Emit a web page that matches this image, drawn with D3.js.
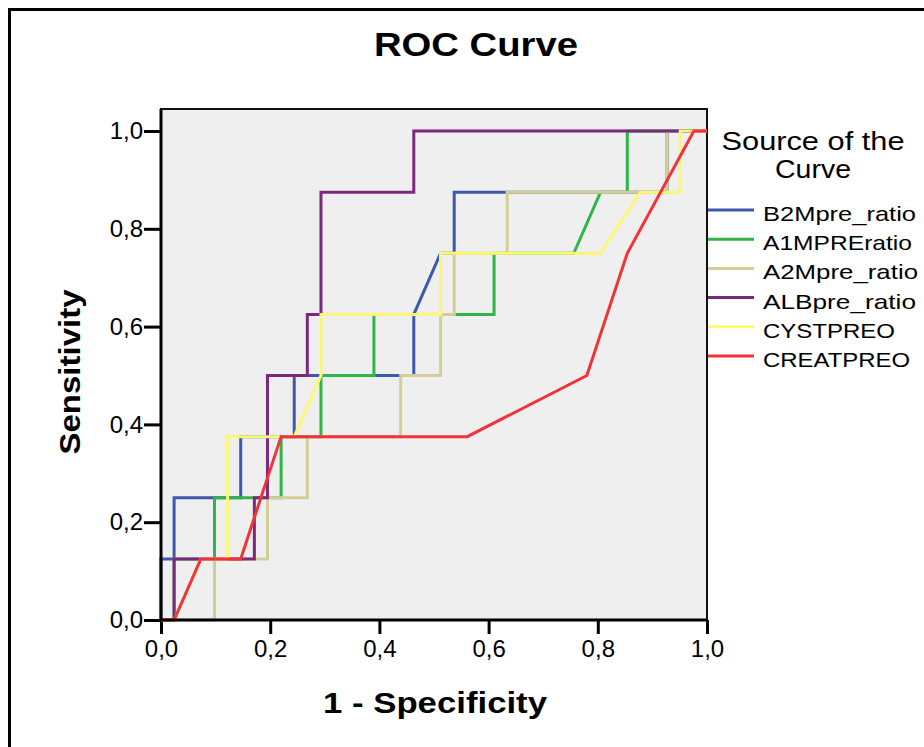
<!DOCTYPE html>
<html>
<head>
<meta charset="utf-8">
<script src="https://cdn.jsdelivr.net/npm/d3@7"></script>
<style>
  body { margin: 0; background: #fff; }
  text { font-family: Arial, "Liberation Sans", sans-serif; fill: #000; }
</style>
</head>
<body>
<div id="chart"></div>
<script>
// series names and colours (legend order = drawing order)
var seriesNames = ['B2Mpre_ratio', 'A1MPREratio', 'A2Mpre_ratio', 'ALBpre_ratio', 'CYSTPREO', 'CREATPREO'];
var seriesColors = ['#3e58ac', '#2fb64a', '#d3ce98', '#7c287d', '#fbf873', '#ef3338'];

// 1 - specificity / sensitivity per curve
var b2mX = [0, 0, .024, .024, .146, .146, .244, .244, .463, .463, .512, .537, .537, .927, .927, 1];
var b2mY = [0, .125, .125, .25, .25, .375, .375, .5, .5, .625, .75, .75, .875, .875, 1, 1];

var a1mX = [0, .024, .024, .098, .098, .220, .220, .293, .293, .390, .390, .610, .610, .756, .805, .854, .854, 1];
var a1mY = [0, 0, .125, .125, .25, .25, .375, .375, .5, .5, .625, .625, .75, .75, .875, .875, 1, 1];

var a2mX = [0, .098, .098, .195, .195, .268, .268, .439, .439, .512, .512, .537, .537, .634, .634, .927, .927, 1];
var a2mY = [0, 0, .125, .125, .25, .25, .375, .375, .5, .5, .625, .625, .75, .75, .875, .875, 1, 1];

var albX = [0, .024, .024, .171, .171, .195, .195, .268, .268, .293, .293, .463, .463, 1];
var albY = [0, 0, .125, .125, .25, .25, .5, .5, .625, .625, .875, .875, 1, 1];

var cystX = [0, .024, .073, .122, .122, .244, .293, .293, .512, .512, .805, .878, .951, .951, 1];
var cystY = [0, 0, .125, .125, .375, .375, .5, .625, .625, .75, .75, .875, .875, 1, 1];

var creatX = [0, .024, .073, .146, .220, .561, .780, .854, .976, 1];
var creatY = [0, 0, .125, .125, .375, .375, .5, .75, 1, 1];

var seriesX = [b2mX, a1mX, a2mX, albX, cystX, creatX];
var seriesY = [b2mY, a1mY, a2mY, albY, cystY, creatY];

var tickValues = [0, .2, .4, .6, .8, 1];
var legendWidths = [153, 149, 155, 153, 132, 147];

//layout
var width = 924, height = 747;
var plotLeft = 161, plotRight = 707, plotTop = 109, plotBottom = 620;

var svg = d3.select('#chart').append('svg')
    .attr('width', width)
    .attr('height', height);

svg.append('rect')
    .attr('width', width).attr('height', height)
    .attr('fill', '#fff');

//outer frame
svg.append('rect')
    .attr('x', 9.5).attr('y', 9.5)
    .attr('width', 1000).attr('height', 1000)
    .attr('fill', 'none')
    .attr('stroke', '#000')
    .attr('stroke-width', 3);

var x = d3.scaleLinear().domain([0, 1]).range([plotLeft, plotRight]);
var y = d3.scaleLinear().domain([0, 1]).range([plotBottom, 131]);

var fmt = d3.formatLocale({decimal: ',', thousands: '.', grouping: [3], currency: ['', '']}).format('.1f');

//plot background
svg.append('rect')
    .attr('x', plotLeft).attr('y', plotTop)
    .attr('width', plotRight - plotLeft).attr('height', plotBottom - plotTop)
    .attr('fill', '#efefef')
    .attr('stroke', '#111')
    .attr('stroke-width', 2);

//axes
var yAxis = svg.append('g')
    .attr('transform', 'translate(' + plotLeft + ',0)')
    .call(d3.axisLeft(y).tickValues(tickValues).tickSize(17).tickPadding(1).tickFormat(fmt));

var xAxis = svg.append('g')
    .attr('transform', 'translate(0,' + plotBottom + ')')
    .call(d3.axisBottom(x).tickValues(tickValues).tickSize(14).tickPadding(6).tickFormat(fmt));

[yAxis, xAxis].forEach(function(ax) {
    ax.select('.domain').remove();
    ax.selectAll('line').attr('stroke', '#000').attr('stroke-width', 3);
    ax.selectAll('text')
        .style('font-size', '24px')
        .style('font-family', 'Arial, "Liberation Sans", sans-serif')
        .attr('fill', '#000');
});

//curves
var line = d3.line()
    .x(function(d) { return x(d[0]); })
    .y(function(d) { return y(d[1]); });

var curves = seriesNames.map(function(name, i) {
    return seriesX[i].map(function(v, j) { return [v, seriesY[i][j]]; });
});

svg.append('g').selectAll('path')
    .data(curves)
    .enter().append('path')
    .attr('d', line)
    .attr('fill', 'none')
    .attr('stroke', function(d, i) { return seriesColors[i]; })
    .attr('stroke-width', 3)
    .attr('stroke-linejoin', 'miter');

//axis lines on top
svg.append('line')
    .attr('x1', plotLeft).attr('x2', plotLeft)
    .attr('y1', plotTop).attr('y2', plotBottom + 1)
    .attr('stroke', '#000').attr('stroke-width', 3);
svg.append('line')
    .attr('x1', plotLeft - 1).attr('x2', plotRight)
    .attr('y1', plotBottom).attr('y2', plotBottom)
    .attr('stroke', '#000').attr('stroke-width', 3);

//titles
svg.append('text')
    .attr('x', 476).attr('y', 56)
    .attr('text-anchor', 'middle')
    .attr('textLength', 204).attr('lengthAdjust', 'spacingAndGlyphs')
    .style('font-size', '34px').style('font-weight', 'bold')
    .text('ROC Curve');

svg.append('text')
    .attr('x', 435).attr('y', 713)
    .attr('text-anchor', 'middle')
    .attr('textLength', 224).attr('lengthAdjust', 'spacingAndGlyphs')
    .style('font-size', '30px').style('font-weight', 'bold')
    .text('1 - Specificity');

svg.append('text')
    .attr('transform', 'translate(80,372) rotate(-90)')
    .attr('text-anchor', 'middle')
    .attr('textLength', 165).attr('lengthAdjust', 'spacingAndGlyphs')
    .style('font-size', '30px').style('font-weight', 'bold')
    .text('Sensitivity');

//legend
svg.append('text')
    .attr('x', 813).attr('y', 150)
    .attr('text-anchor', 'middle')
    .attr('textLength', 183).attr('lengthAdjust', 'spacingAndGlyphs')
    .style('font-size', '25px')
    .text('Source of the');
svg.append('text')
    .attr('x', 813).attr('y', 178)
    .attr('text-anchor', 'middle')
    .attr('textLength', 76).attr('lengthAdjust', 'spacingAndGlyphs')
    .style('font-size', '25px')
    .text('Curve');

var legend = svg.append('g').selectAll('g')
    .data(seriesNames)
    .enter().append('g')
    .attr('transform', function(d, i) { return 'translate(708,' + (210 + i * 29.2) + ')'; });

legend.append('line')
    .attr('x1', 0).attr('x2', 46)
    .attr('stroke', function(d, i) { return seriesColors[i]; })
    .attr('stroke-width', 3);

legend.append('text')
    .attr('x', 55).attr('y', 11)
    .attr('textLength', function(d, i) { return legendWidths[i]; })
    .attr('lengthAdjust', 'spacingAndGlyphs')
    .style('font-size', '21px')
    .text(function(d) { return d; });
</script>
</body>
</html>
